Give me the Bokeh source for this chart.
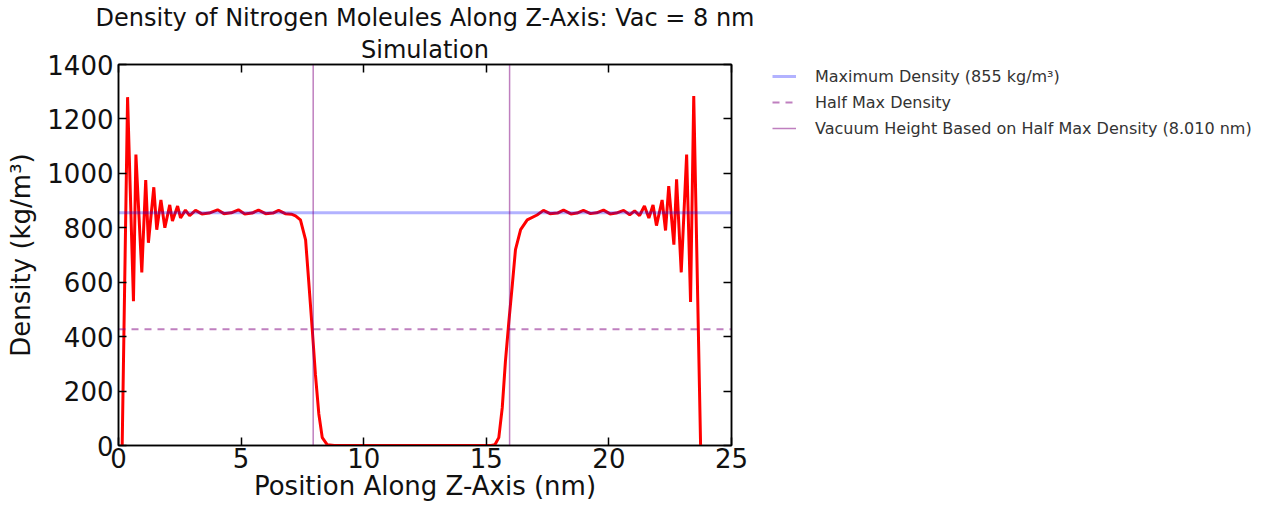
from bokeh.plotting import figure
from bokeh.layouts import row
from bokeh.models import (Range1d, LinearAxis, Legend, LegendItem, Title,
                          FixedTicker)
from bokeh.embed import file_html
from bokeh.resources import INLINE

# ---- data ----
pos_nm = [0.15, 0.37, 0.61, 0.71, 0.95, 1.11, 1.22, 1.44, 1.56, 1.73, 1.89, 2.09,
          2.20, 2.41, 2.53, 2.73, 2.90, 3.14, 3.40, 3.70, 4.04, 4.30, 4.60, 4.89,
          5.15, 5.45, 5.71, 6.00, 6.30, 6.53, 6.80, 7.05, 7.22, 7.42, 7.63, 7.76,
          7.90, 8.03, 8.17, 8.31, 8.51, 8.80,
          15.20, 15.35, 15.51, 15.65, 15.78, 15.92, 16.06, 16.19, 16.40, 16.67,
          17.07, 17.33, 17.60, 17.90, 18.15, 18.45, 18.70, 18.96, 19.25, 19.50,
          19.78, 20.05, 20.30, 20.60, 20.85, 21.05, 21.25, 21.45, 21.63, 21.80,
          21.94, 22.17, 22.31, 22.44, 22.65, 22.76, 22.95, 23.17, 23.33, 23.46,
          23.74]
density = [0, 1280, 530, 1069, 636, 975, 745, 949, 793, 902, 800, 884,
           825, 880, 836, 865, 845, 864, 851, 854, 866, 852, 855, 866,
           851, 854, 865, 852, 854, 864, 852, 850, 844, 829, 756, 600,
           429, 262, 116, 29, 3, 0,
           0, 3, 29, 138, 309, 455, 589, 720, 793, 829,
           847, 864, 852, 854, 865, 851, 854, 864, 852, 855,
           865, 851, 854, 864, 848, 862, 845, 880, 836, 884,
           808, 902, 790, 953, 738, 978, 636, 1069, 527, 1284,
           0]
max_density = 855
half_max = 427.5
vac_edges = [7.94, 15.95]
x_ticks = [0, 5, 10, 15, 20, 25]
y_ticks = [0, 200, 400, 600, 800, 1000, 1200, 1400]
title_main = "Density of Nitrogen Moleules Along Z-Axis: Vac = 8 nm"
title_sub = "Simulation"
legend_labels = ["Maximum Density (855 kg/m³)", "Half Max Density",
                 "Vacuum Height Based on Half Max Density (8.010 nm)"]

FONT = "DejaVu Sans"
MAX_STYLE = dict(line_color="blue", line_alpha=0.3, line_width=3)
HALF_STYLE = dict(line_color="purple", line_alpha=0.5, line_width=2, line_dash="7 6")
VAC_STYLE = dict(line_color="purple", line_alpha=0.5, line_width=1.5)

p = figure(width=760, height=512, output_backend="svg", toolbar_location=None,
           x_range=Range1d(0, 25), y_range=Range1d(0, 1400),
           min_border_left=118, min_border_right=29, min_border_top=60,
           min_border_bottom=67, title=None)

p.grid.visible = False
p.outline_line_color = "black"
p.outline_line_width = 1.5
p.background_fill_color = "white"
p.border_fill_color = "white"

for ax in (p.xaxis[0], p.yaxis[0]):
    ax.major_tick_in = 8
    ax.major_tick_out = 0
    ax.minor_tick_line_color = None
    ax.axis_line_width = 1.5
    ax.major_tick_line_width = 1.5
    ax.major_label_text_font = FONT
    ax.major_label_text_font_size = "26px"
    ax.major_label_text_color = "#111111"
    ax.axis_label_text_font = FONT
    ax.axis_label_text_font_size = "26px"
    ax.axis_label_text_font_style = "normal"
    ax.axis_label_text_color = "#111111"
p.xaxis.ticker = FixedTicker(ticks=x_ticks)
p.yaxis.ticker = FixedTicker(ticks=y_ticks)
p.xaxis.axis_label = "Position Along Z-Axis (nm)"
p.yaxis.axis_label = "Density (kg/m³)"
p.xaxis.major_label_standoff = 2
p.yaxis.major_label_standoff = 5
p.xaxis.axis_label_standoff = 0
p.yaxis.axis_label_standoff = 8

for side, tk in (("above", x_ticks), ("right", y_ticks)):
    ax = LinearAxis(ticker=FixedTicker(ticks=tk), major_tick_in=8, major_tick_out=0,
                    minor_tick_line_color=None, axis_line_width=1.5,
                    major_tick_line_width=1.5, major_label_text_font_size="0px",
                    major_label_standoff=0)
    p.add_layout(ax, side)

for txt in (title_sub, title_main):
    p.add_layout(Title(text=txt, align="center", text_font=FONT,
                       text_font_size="24px", text_font_style="normal",
                       text_color="#111111", standoff=2), "above")

p.line(pos_nm, density, line_color="red", line_width=3)
p.line([0, 25], [max_density, max_density], **MAX_STYLE)
p.line([0, 25], [half_max, half_max], **HALF_STYLE)
p.multi_line([[e, e] for e in vac_edges], [[0, 1400] for _ in vac_edges], **VAC_STYLE)

# ---- legend panel to the right of the plot (its frame aligns with the plot's) ----
lf = figure(width=511, height=512, output_backend="svg", toolbar_location=None,
            x_range=Range1d(0, 1), y_range=Range1d(0, 1), min_border=0,
            title=None)
lf.axis.visible = False
lf.grid.visible = False
lf.outline_line_color = None
# stand-in renderers for the legend keys, kept outside the visible range
lr_max = lf.line([5, 6], [5, 5], **MAX_STYLE)
lr_half = lf.line([5, 6], [5, 5], **HALF_STYLE)
lr_vac = lf.line([5, 6], [5, 5], **VAC_STYLE)

legend = Legend(items=[LegendItem(label=t, renderers=[r]) for t, r in
                       zip(legend_labels, [lr_max, lr_half, lr_vac])],
                location=(12, 307))
legend.border_line_color = None
legend.background_fill_alpha = 0
legend.label_text_font = FONT
legend.label_text_font_size = "16px"
legend.label_text_color = "#333333"
legend.glyph_width = 24
legend.glyph_height = 20
legend.label_height = 20
legend.label_standoff = 19
legend.spacing = 6
legend.padding = 6
legend.margin = 0
lf.add_layout(legend, "center")

layout = row(p, lf)
open("out.html", "w").write(file_html(layout, INLINE))
